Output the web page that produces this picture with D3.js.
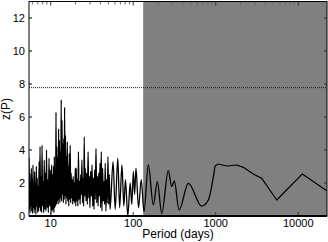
<!DOCTYPE html>
<html>
<head>
<meta charset="utf-8">
<script src="https://cdn.jsdelivr.net/npm/d3@7"></script>
<style>
  body { margin: 0; background: #fff; }
  text { font-family: "Liberation Sans", Arial, Helvetica, sans-serif; fill: #000; }
</style>
</head>
<body>
<svg id="chart" width="328" height="242"></svg>
<script>
// periodogram values

// short periods, very dense part (5.5 - 10 days)
var shortPeriod = [5.46, 5.52, 5.58, 5.64, 5.70, 5.76, 5.83, 5.89, 5.96, 6.03, 6.10, 6.17, 6.24, 6.31, 6.39, 6.46,
  6.54, 6.62, 6.70, 6.79, 6.87, 6.96, 7.05, 7.14, 7.24, 7.33, 7.43, 7.54, 7.64, 7.75, 7.86, 7.98, 8.10, 8.22,
  8.35, 8.48, 8.62, 8.76, 8.90, 9.05, 9.21, 9.37, 9.54, 9.71, 9.89, 10.08, 10.27];
var shortPower = [3.5, 0.4, 2.6, 0.2, 1.9, 0.6, 2.9, 0.3, 2.2, 0.15, 3.1, 0.5, 1.7, 0.2, 2.7, 0.4,
  2.0, 0.1, 3.0, 0.6, 2.3, 0.2, 1.8, 0.3, 3.3, 0.5, 4.2, 0.3, 2.4, 0.2, 4.3, 0.6, 2.1, 0.2,
  3.4, 0.4, 2.6, 0.3, 4.0, 0.5, 2.2, 0.2, 3.5, 0.6, 2.8, 0.1, 3.1];

// the tall peaks (10 - 20 days)
var midPeriod = [10.42, 10.55, 10.68, 10.81, 10.94, 11.07, 11.2, 11.33, 11.46, 11.6, 11.74, 11.88, 12.02,
  12.17, 12.32, 12.47, 12.62, 12.77, 12.93, 13.09, 13.25, 13.41, 13.57, 13.73, 13.9, 14.07, 14.24, 14.41,
  14.58, 14.75, 14.93, 15.11, 15.3, 15.5, 15.7, 15.9, 16.1, 16.32, 16.55, 16.78, 17.0, 17.24, 17.48,
  17.72, 17.97, 18.22, 18.48, 18.75, 19.02, 19.3, 19.58, 19.86, 20.14];
var midPower = [0.3, 2.5, 0.4, 3.0, 0.2, 3.6, 0.5, 2.8, 0.6, 6.3, 0.7, 4.2, 0.9,
  3.5, 0.7, 5.3, 1.0, 4.6, 0.8, 3.9, 1.1, 7.05, 0.9, 5.8, 1.3, 4.4, 0.8, 4.7,
  1.0, 6.6, 1.2, 4.9, 0.7, 3.6, 1.1, 4.5, 0.9, 3.0, 0.6, 3.8, 1.0, 4.3, 0.8,
  2.6, 1.1, 2.2, 0.7, 2.4, 0.9, 2.0, 0.8, 2.9, 0.6];

// 20 - 135 days
var longPeriod = [20.4, 20.7, 21.0, 21.35, 21.7, 22.05, 22.4, 22.75, 23.1, 23.5, 23.9, 24.3, 24.7, 25.1,
  25.5, 25.9, 26.3, 26.8, 27.3, 27.8, 28.4, 28.9, 29.4, 29.9, 30.5, 31.1, 31.7, 32.3, 32.9, 33.5, 34.1,
  34.7, 35.4, 36.1, 36.8, 37.5, 38.2, 38.9, 39.6, 40.3, 41.0, 41.8, 42.6, 43.4, 44.2, 45.0, 45.8, 46.7,
  47.6, 48.5, 49.4, 50.4, 51.4, 52.4, 57.0, 60.5, 65.0, 68.5, 73.0, 77.0, 80.5, 86.0, 92.0, 96.0,
  100.5, 104.0, 108.0, 116.0, 125.0, 135.0];
var longPower = [2.9, 0.9, 2.2, 0.6, 3.9, 1.0, 2.1, 0.7, 2.5, 1.3, 3.4, 0.8, 2.3, 0.6,
  4.8, 1.2, 2.9, 0.9, 2.6, 0.7, 3.9, 1.1, 2.4, 0.5, 2.7, 1.2, 3.1, 0.6, 2.3, 0.4, 2.8,
  1.0, 4.1, 0.8, 2.4, 0.6, 2.6, 1.2, 3.2, 0.5, 3.9, 0.3, 2.9, 0.9, 2.1, 0.7, 3.2, 0.3,
  2.2, 0.8, 3.6, 0.7, 2.5, 0.4, 3.3, 0.4, 3.5, 0.5, 3.1, 0.6, 2.2, 0.0, 2.0, 0.7,
  2.7, 1.3, 2.9, 0.5, 2.2, 0.26];

// smooth part inside the shaded window
var shadedPeriod = [152.4, 175.2, 196, 221.6, 266.4, 292.9, 314.9, 359.3, 465.6, 676.6, 813.3, 980.6];
var shadedPower = [3.09, 0.67, 2.08, 0.16, 2.75, 1.78, 2.12, 0.36, 1.98, 0.6, 0.97, 3.03];

// longest periods, only a few samples, joined straight
var tailPeriod = [980.6, 1075, 1359, 1797, 2160, 2856, 3611, 5488, 11210, 22160];
var tailPower = [3.03, 3.15, 3.03, 3.09, 2.95, 2.55, 2.28, 0.97, 2.55, 1.53];

var shadeStart = 132;          // days, start of the grey region
var threshold = 7.78;          // dotted significance level
var xTicks = [10, 100, 1000, 10000];
var yTicks = [0, 2, 4, 6, 8, 10, 12];

var margin = {left: 29, right: 1, top: 1.5, bottom: 26};
var width = 328, height = 242;

var svg = d3.select("#chart");

var x = d3.scaleLog()
  .domain([5.46, 22300])
  .range([margin.left, width - margin.right]);
var y = d3.scaleLinear()
  .domain([0, 13])
  .range([height - margin.bottom, margin.top]);

function pairUp(periods, power){
  var pts = [];
  periods.forEach(function(p, i){
    pts.push([p, power[i]]);
  });
  return pts;
}

function drawChart(){
  var x0 = x.range()[0], x1 = x.range()[1];
  var y0 = y.range()[0], y1 = y.range()[1];

  svg.append("clipPath").attr("id", "plotclip")
    .append("rect")
    .attr("x", x0).attr("y", y1)
    .attr("width", x1 - x0).attr("height", y0 - y1);

  // grey window
  svg.append("rect")
    .attr("x", x(shadeStart))
    .attr("y", y1)
    .attr("width", x1 - x(shadeStart))
    .attr("height", y0 - y1)
    .style("fill", "#808080");

  var line = d3.line()
    .x(function(d){ return x(d[0]); })
    .y(function(d){ return y(d[1]); })
    .curve(d3.curveMonotoneX);
  var straight = d3.line()
    .x(function(d){ return x(d[0]); })
    .y(function(d){ return y(d[1]); });

  var main = pairUp(shortPeriod.concat(midPeriod, longPeriod, shadedPeriod),
                    shortPower.concat(midPower, longPower, shadedPower));

  svg.append("path")
    .datum(main)
    .attr("clip-path", "url(#plotclip)")
    .attr("d", line)
    .style("fill", "none")
    .style("stroke", "#000")
    .style("stroke-width", 1.3)
    .style("stroke-linejoin", "round");

  svg.append("path")
    .datum(pairUp(tailPeriod, tailPower))
    .attr("clip-path", "url(#plotclip)")
    .attr("d", straight)
    .style("fill", "none")
    .style("stroke", "#000")
    .style("stroke-width", 1.2)
    .style("stroke-linejoin", "round");

  svg.append("line")
    .attr("x1", x0).attr("x2", x1)
    .attr("y1", y(threshold)).attr("y2", y(threshold))
    .style("stroke", "#222")
    .style("stroke-width", 1)
    .style("stroke-dasharray", "1,1");

  // minor ticks along the top
  var minor = [];
  [1, 10, 100, 1000, 10000].forEach(function(dec){
    for (var k = 2; k <= 9; k++) {
      var v = dec * k;
      if (v > x.domain()[0] && v < x.domain()[1]) minor.push(v);
    }
  });
  svg.selectAll(".minor").data(minor).enter().append("line")
    .attr("x1", function(d){ return x(d); })
    .attr("x2", function(d){ return x(d); })
    .attr("y1", y1).attr("y2", y1 + 3)
    .style("stroke", "#666");

  // major ticks, bottom and top
  svg.selectAll(".xtick").data(xTicks).enter().append("line")
    .attr("x1", function(d){ return x(d); })
    .attr("x2", function(d){ return x(d); })
    .attr("y1", y0).attr("y2", y0 - 4)
    .style("stroke", "#333");
  svg.selectAll(".xtop").data(xTicks).enter().append("line")
    .attr("x1", function(d){ return x(d); })
    .attr("x2", function(d){ return x(d); })
    .attr("y1", y1).attr("y2", y1 + 4)
    .style("stroke", "#333");

  svg.selectAll(".ytick").data(yTicks).enter().append("line")
    .attr("x1", x0).attr("x2", x0 + 3)
    .attr("y1", function(d){ return y(d); })
    .attr("y2", function(d){ return y(d); })
    .style("stroke", "#000");
  svg.selectAll(".ytickr").data(yTicks).enter().append("line")
    .attr("x1", x1).attr("x2", x1 - 3)
    .attr("y1", function(d){ return y(d); })
    .attr("y2", function(d){ return y(d); })
    .style("stroke", "#333");

  // frame
  svg.append("rect")
    .attr("x", x0).attr("y", y1)
    .attr("width", x1 - x0).attr("height", y0 - y1)
    .style("fill", "none")
    .style("stroke", "#000")
    .style("stroke-width", 1);
  svg.append("line")
    .attr("x1", x0).attr("x2", x1)
    .attr("y1", y0).attr("y2", y0)
    .style("stroke", "#000")
    .style("stroke-width", 1.8);

  // tick labels
  svg.selectAll(".ylab").data(yTicks).enter().append("text")
    .attr("x", 25)
    .attr("y", function(d){ return y(d) + 4; })
    .attr("text-anchor", "end")
    .style("font-size", "11px")
    .text(function(d){ return d; });

  svg.selectAll(".xlab").data(xTicks).enter().append("text")
    .attr("x", function(d){ return x(d); })
    .attr("y", 227)
    .attr("text-anchor", "middle")
    .style("font-size", "11px")
    .text(function(d){ return d; });

  svg.append("text")
    .attr("x", 178)
    .attr("y", 238)
    .attr("text-anchor", "middle")
    .style("font-size", "12px")
    .text("Period (days)");

  svg.append("text")
    .attr("transform", "translate(10,109) rotate(-90)")
    .attr("text-anchor", "middle")
    .style("font-size", "12px")
    .text("z(P)");
}

drawChart();
</script>
</body>
</html>
